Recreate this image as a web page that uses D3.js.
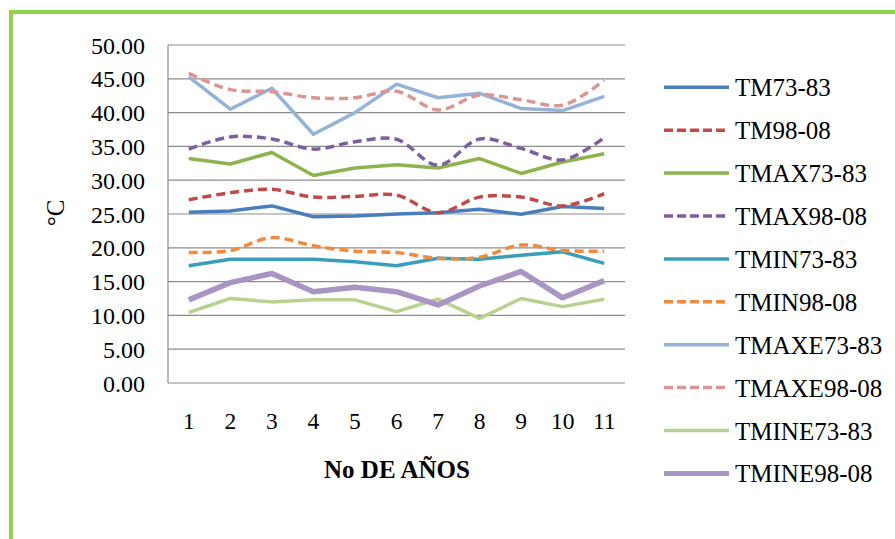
<!DOCTYPE html>
<html><head><meta charset="utf-8">
<script src="https://cdn.jsdelivr.net/npm/d3@7"></script>
<style>html,body{margin:0;padding:0;background:#fff;}svg{display:block;}</style>
</head><body>
<svg id="chart" width="895" height="539"></svg>
<script>
const years = [1,2,3,4,5,6,7,8,9,10,11];
const yTicks = [0,5,10,15,20,25,30,35,40,45,50];
const seriesNames = ["TM73-83","TM98-08","TMAX73-83","TMAX98-08","TMIN73-83","TMIN98-08","TMAXE73-83","TMAXE98-08","TMINE73-83","TMINE98-08"];
const TM73_83    = [25.25,25.45,26.2,24.6,24.7,25.0,25.2,25.7,24.95,26.1,25.8];
const TM98_08    = [27.1,28.15,28.65,27.5,27.6,27.8,25.2,27.5,27.5,26.2,28.0];
const TMAX73_83  = [33.2,32.4,34.1,30.7,31.8,32.3,31.8,33.2,31.0,32.7,33.9];
const TMAX98_08  = [34.6,36.4,36.1,34.6,35.7,36.05,32.2,36.1,34.7,33.0,36.3];
const TMIN73_83  = [17.35,18.3,18.3,18.3,17.95,17.35,18.45,18.3,18.9,19.4,17.7];
const TMIN98_08  = [19.3,19.6,21.5,20.3,19.5,19.3,18.45,18.6,20.4,19.6,19.5];
const TMAXE73_83 = [45.3,40.5,43.6,36.8,40.0,44.2,42.2,42.85,40.6,40.3,42.4];
const TMAXE98_08 = [45.8,43.4,43.1,42.2,42.2,43.15,40.4,42.6,41.9,41.1,44.8];
const TMINE73_83 = [10.45,12.5,12.0,12.3,12.3,10.55,12.4,9.55,12.5,11.3,12.4];
const TMINE98_08 = [12.3,14.85,16.2,13.5,14.15,13.5,11.55,14.35,16.5,12.6,15.15];
const seriesValues = [TM73_83,TM98_08,TMAX73_83,TMAX98_08,TMIN73_83,TMIN98_08,TMAXE73_83,TMAXE98_08,TMINE73_83,TMINE98_08];

const colors = ["#4A7EBB","#BE4B48","#8DB24E","#7D5FA0","#3A9EBA","#F08A3C","#95B3D7","#D99694","#B9D18E","#A895C2"];
const dashed = [false,true,false,true,false,true,false,true,false,false];
const widths = [3.5,3.5,3.5,3.5,3.5,3.5,3.5,3.5,3.5,5.5];

const svg = d3.select("#chart");
const font = "'Liberation Serif','Times New Roman',serif";

// green frame
svg.append("path").attr("d","M11,539 L11,12 L895,12")
  .attr("fill","none").attr("stroke","#92D050").attr("stroke-width",4);

const x = d3.scaleBand().domain(years).range([168,625]);
const y = d3.scaleLinear().domain([0,50]).range([383,45]);

// gridlines
svg.append("g").selectAll("line").data(yTicks).join("line")
  .attr("x1",168).attr("x2",625)
  .attr("y1",d=>y(d)).attr("y2",d=>y(d))
  .attr("stroke","#8C8C8C").attr("stroke-width",1.2);
svg.append("line").attr("x1",168).attr("x2",168).attr("y1",45).attr("y2",383)
  .attr("stroke","#8C8C8C").attr("stroke-width",1.2);

// y tick labels
const yAxis = d3.axisLeft(y).tickValues(yTicks).tickFormat(d=>d.toFixed(2)).tickSize(0).tickPadding(0);
const gy = svg.append("g").attr("transform","translate(145,0)").call(yAxis);
gy.select(".domain").remove();
gy.attr("font-family",font);
gy.selectAll("text").attr("font-family",font).attr("font-size",24).attr("fill","#000")
  .attr("dy",null).attr("y",8);

// x tick labels
const xAxis = d3.axisBottom(x).tickSize(0).tickPadding(0);
const gx = svg.append("g").attr("transform","translate(0,429)").call(xAxis);
gx.select(".domain").remove();
gx.attr("font-family",font);
gx.selectAll("text").attr("font-family",font).attr("font-size",23.5).attr("fill","#000")
  .attr("dy",null).attr("y",0);

// axis titles
svg.append("text").attr("x",397).attr("y",478).attr("text-anchor","middle")
  .attr("font-family",font).attr("font-size",25).attr("font-weight","bold").text("No DE AÑOS");
svg.append("text").attr("transform","translate(64,213) rotate(-90)").attr("text-anchor","middle")
  .attr("font-family",font).attr("font-size",25).text("°C");

// lines
const cx = d => x(d) + x.bandwidth()/2;
seriesValues.forEach((vals,i)=>{
  const line = d3.line().x((d,j)=>cx(years[j])).y(d=>y(d))
    .curve(dashed[i] ? d3.curveCatmullRom.alpha(0.5) : d3.curveLinear);
  svg.append("path").datum(vals).attr("d",line).attr("fill","none")
    .attr("stroke",colors[i]).attr("stroke-width",widths[i])
    .attr("stroke-linejoin","round")
    .attr("stroke-dasharray",dashed[i]?"9,5":null);
});

// legend
const lg = svg.append("g");
seriesNames.forEach((name,i)=>{
  const ly = 87.3 + i*42.9;
  lg.append("line").attr("x1",664).attr("x2",729).attr("y1",ly).attr("y2",ly)
    .attr("stroke",colors[i]).attr("stroke-width",widths[i]===5.5?5:3.5)
    .attr("stroke-dasharray",dashed[i]?"9,4":null);
  lg.append("text").attr("x",735).attr("y",ly+9).attr("font-family",font).attr("font-size",25)
    .text(name);
});
</script>
</body></html>
